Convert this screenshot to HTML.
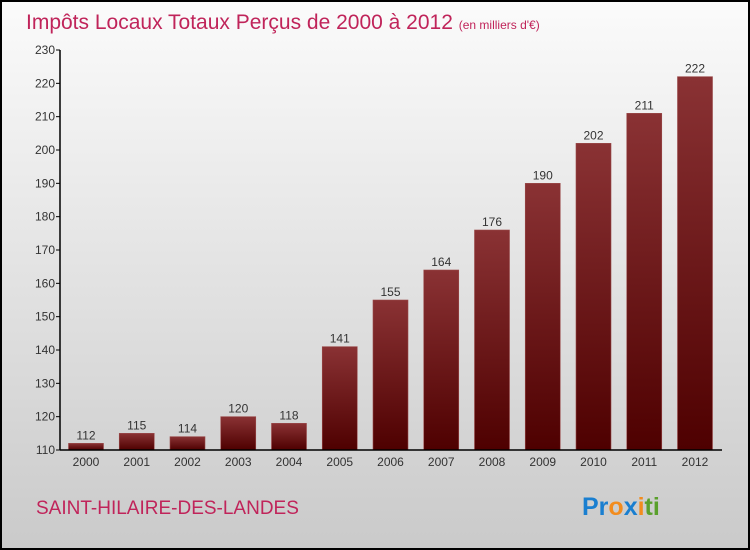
<!DOCTYPE html>
<html><head><meta charset="utf-8"><style>
body{margin:0;width:750px;height:550px;overflow:hidden;font-family:"Liberation Sans",sans-serif}
svg{display:block}
</style></head><body>
<svg id="c" width="750" height="550" xmlns="http://www.w3.org/2000/svg">
<defs>
<linearGradient id="bg" x1="0" y1="0" x2="0" y2="1"><stop offset="0" stop-color="#fbfbfb"/><stop offset="1" stop-color="#cacaca"/></linearGradient>
<linearGradient id="bar" x1="0" y1="0" x2="0" y2="1"><stop offset="0" stop-color="#8a3234"/><stop offset="1" stop-color="#4e0000"/></linearGradient>
</defs>
<rect x="1" y="1" width="748" height="548" fill="url(#bg)" stroke="#000" stroke-width="2"/>
<text x="26" y="29" font-size="21" fill="#c0245a">Impôts Locaux Totaux Perçus de 2000 à 2012 <tspan font-size="12">(en milliers d'€)</tspan></text>
<text x="36" y="514" font-size="19" fill="#c0245a">SAINT-HILAIRE-DES-LANDES</text>
<text x="582" y="515" font-size="25" font-weight="bold"><tspan fill="#1a7fd0">Pr</tspan><tspan fill="#f28c1e">o</tspan><tspan fill="#1a7fd0">x</tspan><tspan fill="#f28c1e">i</tspan><tspan fill="#5aa02c">ti</tspan></text>
<g id="plot"></g>
</svg>
<script>
const categories=["2000","2001","2002","2003","2004","2005","2006","2007","2008","2009","2010","2011","2012"];
const values=[112,115,114,120,118,141,155,164,176,190,202,211,222];
const yTicks=[110,120,130,140,150,160,170,180,190,200,210,220,230];
const yMin=110,yMax=230,plotTop=50,plotBottom=450,plotX0=60,plotX1=722;
const yScale=v=>plotBottom-(v-yMin)/(yMax-yMin)*(plotBottom-plotTop);
const step=50.75,firstC=86,bw=35;
const xc=i=>firstC+i*step;
const g=document.getElementById('plot');
const NS="http://www.w3.org/2000/svg";
function mk(t,a){const e=document.createElementNS(NS,t);for(const k in a)e.setAttribute(k,a[k]);g.appendChild(e);return e;}
yTicks.forEach(v=>{
 const l=mk('line',{x1:plotX0-4,x2:plotX0,y1:yScale(v),y2:yScale(v),stroke:'#000'});
 
 
 const t=mk('text',{x:plotX0-5,y:yScale(v)+4,'font-size':12,'text-anchor':'end',fill:'#333'});
 t.textContent=v;
 
 
});
values.forEach((v,i)=>{
 const r=mk('rect',{x:xc(i)-bw/2,y:yScale(v),width:bw,height:plotBottom-yScale(v),fill:'url(#bar)',stroke:'#9a4a4a','stroke-width':0.6});
 
 
 const t=mk('text',{x:xc(i),y:yScale(v)-4,'font-size':12,'text-anchor':'middle',fill:'#333'});
 t.textContent=v;
 
 
 const c=mk('text',{x:xc(i),y:plotBottom+16,'font-size':12,'text-anchor':'middle',fill:'#333'});
 c.textContent=categories[i];
 
 
});
const ya=mk('line',{x1:plotX0,x2:plotX0,y1:plotTop,y2:plotBottom,stroke:'#000','stroke-width':1.5});


const xa=mk('line',{x1:plotX0,x2:plotX1,y1:plotBottom,y2:plotBottom,stroke:'#000','stroke-width':1.5});


</script>
</body></html>
